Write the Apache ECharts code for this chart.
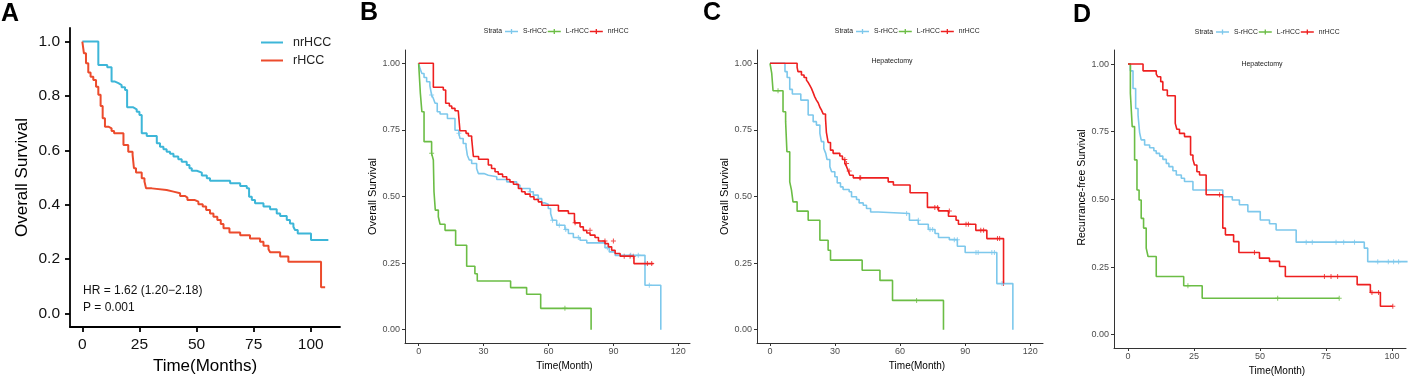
<!DOCTYPE html>
<html>
<head>
<meta charset="utf-8">
<script src="https://cdn.jsdelivr.net/npm/echarts@6/dist/echarts.min.js"></script>
<style>
html, body { margin: 0; padding: 0; background: #fff; }
#main { width: 1410px; height: 377px; }
</style>
</head>
<body>
<div id="main"></div>
<script>
// ---- data: [time in months, survival probability] ----

// A - overall survival, nrHCC vs rHCC
var A_nrHCC = [[0,1],[7.0,0.914],[10.9,0.906],[12.8,0.853],[14.3,0.847],[15.8,0.84],[17.2,0.832],[18.7,0.822],
  [19.6,0.758],[22.3,0.751],[23.8,0.742],[25.0,0.73],[26.0,0.663],[28.2,0.653],[32.6,0.626],[34.0,0.613],
  [35.5,0.604],[36.9,0.595],[38.4,0.587],[39.9,0.577],[42.0,0.567],[43.5,0.558],[45.7,0.546],[46.9,0.534],
  [47.9,0.525],[50.1,0.518],[52.3,0.507],[54.5,0.497],[55.9,0.488],[64.7,0.479],[69.1,0.469],[72.0,0.46],
  [73.0,0.429],[74.2,0.417],[75.6,0.405],[79.3,0.393],[82.2,0.383],[85.1,0.368],[86.6,0.358],[89.5,0.344],
  [90.9,0.331],[92.4,0.319],[93.1,0.307],[94.3,0.294],[100.1,0.27],[107.7,0.27]];
var A_rHCC = [[0,1],[0.7,0.957],[1.6,0.92],[2.6,0.886],[3.6,0.871],[4.8,0.859],[6.0,0.834],[7.0,0.804],
  [8.0,0.763],[8.9,0.718],[9.9,0.687],[11.4,0.681],[12.8,0.671],[13.9,0.663],[18.0,0.62],[20.1,0.595],
  [22.0,0.583],[22.6,0.534],[23.5,0.518],[26.0,0.497],[27.2,0.485],[27.9,0.46],[30.4,0.454],[36.9,0.448],
  [39.9,0.442],[42.8,0.432],[45.0,0.426],[46.0,0.417],[49.3,0.411],[50.8,0.402],[52.7,0.393],[54.2,0.38],
  [55.9,0.368],[57.4,0.356],[59.1,0.344],[60.6,0.329],[61.8,0.313],[64.4,0.298],[69.1,0.288],[73.4,0.276],
  [77.8,0.264],[79.3,0.249],[81.5,0.236],[82.2,0.225],[86.6,0.209],[90.2,0.19],[104.5,0.096],[106.3,0.096]];

// B - overall survival, three groups
var B_S = [[0,1],[0.6,0.981],[1.5,0.962],[2.5,0.947],[3.7,0.931],[5.2,0.915],[6.0,0.881],[6.8,0.868],
  [7.6,0.85],[8.6,0.818],[9.9,0.81],[13.3,0.793],[16.8,0.749],[18.6,0.737],[19.1,0.718],[20.6,0.699],
  [21.9,0.687],[22.5,0.655],[23.4,0.637],[24.5,0.624],[26.8,0.605],[27.6,0.586],[30.2,0.58],[32.2,0.574],
  [36.1,0.564],[40.7,0.555],[45.3,0.543],[46.8,0.53],[51.5,0.518],[53.0,0.505],[55.3,0.492],[56.9,0.476],
  [58.4,0.471],[59.9,0.455],[61.0,0.436],[61.9,0.411],[63.8,0.392],[67.6,0.376],[69.2,0.361],[71.5,0.346],
  [74.6,0.336],[77.7,0.326],[86.1,0.308],[88.1,0.292],[90.8,0.279],[104.6,0.167],[111.9,0]];
var B_L = [[0,1],[0.8,0.887],[1.5,0.818],[2.5,0.706],[6.0,0.662],[6.8,0.637],[7.1,0.518],[7.7,0.449],
  [9.1,0.424],[9.9,0.396],[12.2,0.373],[17.1,0.317],[22.2,0.238],[26.0,0.21],[27.1,0.183],[42.5,0.158],
  [49.9,0.133],[56.4,0.08],[79.7,0]];
var B_nr = [[0,1],[6.8,0.91],[11.4,0.9],[12.5,0.85],[14.2,0.84],[15.3,0.831],[16.8,0.822],[18.3,0.815],
  [19.1,0.747],[21.9,0.737],[23.0,0.727],[24.5,0.718],[25.3,0.65],[27.7,0.64],[32.2,0.618],[33.7,0.605],
  [35.3,0.593],[36.8,0.584],[38.8,0.574],[40.7,0.564],[42.2,0.555],[43.8,0.546],[46.1,0.53],[47.6,0.518],
  [49.2,0.509],[51.5,0.499],[53.3,0.489],[55.3,0.48],[56.9,0.467],[64.6,0.446],[69.2,0.436],[72.0,0.401],
  [74.6,0.386],[76.1,0.373],[77.7,0.363],[79.2,0.355],[81.5,0.346],[83.1,0.333],[86.1,0.323],[87.7,0.311],
  [89.2,0.298],[90.8,0.286],[93.1,0.276],[99.5,0.248],[108.5,0.248]];
var B_S_cens = [[6.0,0.881],[18.6,0.737],[51.5,0.518],[55.3,0.492],[61.9,0.411],[65.0,0.392],[68.0,0.376],
  [73.8,0.346],[87.2,0.308],[98.0,0.279],[101.5,0.279],[106.6,0.167]];
var B_L_cens = [[6.0,0.662],[67.6,0.08]];
var B_nr_cens = [[72.3,0.401],[79.2,0.373],[86.1,0.333],[90.0,0.333],[95.0,0.276],[97.7,0.276],[99.2,0.276],
  [104.6,0.248],[105.7,0.248],[107.7,0.248]];

// C - overall survival, hepatectomy
var C_S = [[0,1],[6.9,0.969],[7.9,0.947],[9.1,0.902],[10.3,0.885],[14.2,0.862],[17.6,0.806],[19.9,0.781],
  [21.4,0.768],[23.0,0.737],[23.7,0.706],[24.8,0.68],[25.7,0.662],[26.3,0.639],[27.6,0.612],[28.4,0.593],
  [29.9,0.574],[31.0,0.551],[32.5,0.536],[33.7,0.526],[36.5,0.518],[37.6,0.499],[39.9,0.489],[41.1,0.476],
  [43.0,0.467],[44.5,0.455],[46.4,0.442],[49.9,0.436],[64.3,0.411],[68.4,0.396],[73.0,0.376],[76.1,0.361],
  [77.7,0.346],[82.7,0.338],[86.4,0.313],[90.0,0.29],[104.6,0.173],[112.0,0]];
var C_L = [[0,1],[0.8,0.962],[1.4,0.897],[6.0,0.818],[7.2,0.781],[7.8,0.668],[9.1,0.555],[9.9,0.524],
  [10.6,0.48],[12.5,0.445],[17.6,0.411],[23.0,0.336],[26.8,0.298],[27.9,0.261],[42.5,0.223],[50.7,0.185],
  [56.5,0.11],[80.0,0]];
var C_nr = [[0,1],[12.5,0.985],[12.9,0.969],[14.5,0.956],[15.7,0.947],[16.8,0.937],[17.7,0.927],[18.3,0.918],
  [19.1,0.906],[19.9,0.89],[20.6,0.875],[21.4,0.862],[22.2,0.852],[23.0,0.835],[23.7,0.825],[24.5,0.81],
  [25.6,0.793],[26.0,0.741],[26.8,0.703],[27.9,0.674],[29.1,0.662],[32.2,0.652],[33.4,0.639],[34.5,0.624],
  [35.3,0.612],[36.1,0.596],[36.8,0.58],[38.4,0.57],[54.5,0.555],[56.9,0.543],[64.6,0.514],[72.6,0.459],
  [77.7,0.446],[82.3,0.426],[85.8,0.411],[86.9,0.396],[94.9,0.373],[100.0,0.342],[107.7,0.173]];
var C_S_cens = [[63.0,0.436],[68.4,0.411],[73.8,0.376],[75.0,0.376],[85.0,0.338],[86.4,0.338],[95.0,0.29],
  [96.0,0.29],[102.3,0.29],[103.5,0.29],[107.0,0.173]];
var C_L_cens = [[3.7,0.897],[67.6,0.11]];
var C_nr_cens = [[34.5,0.639],[35.3,0.624],[36.5,0.596],[41.4,0.57],[41.8,0.57],[76.0,0.459],[77.3,0.459],
  [82.7,0.446],[90.4,0.396],[91.5,0.396],[97.2,0.373],[98.5,0.373],[104.9,0.342],[105.9,0.342],[107.7,0.173]];

// D - recurrence-free survival, hepatectomy
var D_S = [[0,1],[0.9,0.975],[1.9,0.91],[2.9,0.836],[3.8,0.812],[4.4,0.747],[5.0,0.72],[6.3,0.701],
  [8.2,0.691],[9.8,0.68],[10.7,0.67],[12.0,0.66],[13.2,0.648],[14.5,0.633],[15.5,0.621],[17.0,0.606],
  [18.3,0.59],[20.2,0.578],[21.4,0.566],[24.6,0.535],[35.9,0.51],[39.5,0.498],[42.2,0.48],[45.4,0.455],
  [50.1,0.424],[53.6,0.41],[56.1,0.387],[63.7,0.342],[89.5,0.32],[90.8,0.27],[105.9,0.27]];
var D_L = [[0,1],[0.9,0.892],[1.6,0.769],[2.5,0.646],[3.4,0.535],[4.2,0.498],[5.0,0.43],[5.9,0.394],
  [6.9,0.32],[7.6,0.289],[10.7,0.215],[21.1,0.181],[28.1,0.135],[80.0,0.135]];
var D_nr = [[0,1],[5.7,0.975],[10.7,0.963],[11.3,0.953],[12.4,0.935],[13.2,0.904],[14.9,0.883],[17.9,0.781],
  [18.5,0.759],[19.5,0.744],[21.4,0.732],[23.7,0.664],[24.6,0.648],[25.2,0.627],[26.1,0.602],[27.1,0.59],
  [29.6,0.517],[35.9,0.394],[36.9,0.369],[40.0,0.344],[42.0,0.304],[49.8,0.283],[53.6,0.271],[57.4,0.252],
  [59.6,0.215],[86.8,0.185],[91.8,0.156],[95.6,0.105],[100.3,0.105]];
var D_S_cens = [[67.5,0.342],[69.8,0.342],[78.8,0.342],[81.7,0.342],[85.8,0.342],[94.6,0.27],[98.6,0.27],
  [100.6,0.27],[102.5,0.27],[105.9,0.27]];
var D_L_cens = [[22.7,0.181],[56.7,0.135],[80.0,0.135]];
var D_nr_cens = [[34.7,0.517],[47.9,0.304],[74.4,0.215],[76.9,0.215],[79.4,0.215],[92.4,0.156],[94.9,0.156],[100.3,0.105]];

// ticks
var A_xTicks = [0, 25, 50, 75, 100];
var A_yTicks = [0, 0.2, 0.4, 0.6, 0.8, 1.0];
var BC_xTicks = [0, 30, 60, 90, 120];
var D_xTicks = [0, 25, 50, 75, 100];
var S_yTicks = [0, 0.25, 0.5, 0.75, 1.0];

var FONT = '"Liberation Sans", Arial, sans-serif';
var blueA = '#3DB6D8', redA = '#EC4B2C';
var sBlue = '#7DC8EC', lGreen = '#6BBD45', nRed = '#EE1F1F';
var plusSym = 'path://M0,4H10V6H0Z M4,0H6V10H4Z';
var keyIcon = 'path://M0,2.2H14V3.8H0Z M6.3,0.3H7.7V5.7H6.3Z';

var chart = echarts.init(document.getElementById('main'));

function xAxisOf(gi, min, max, ticks, name, big) {
  return {
    type: 'value', gridIndex: gi, min: min, max: max,
    name: name, nameLocation: 'middle', nameGap: big ? 30 : 13,
    nameTextStyle: big ? {fontSize: 17, color: '#000', fontFamily: FONT}
                       : {fontSize: 10, color: '#000', fontFamily: FONT, padding: [0, 0, 0, 34]},
    axisLine: {onZero: false, lineStyle: {color: big ? '#000' : '#333', width: big ? 1.8 : 1}},
    axisTick: {customValues: ticks, length: big ? 5 : 3, lineStyle: {color: big ? '#000' : '#333', width: big ? 1.8 : 1}},
    axisLabel: {customValues: ticks, margin: big ? 10 : 4, fontSize: big ? 15.5 : 9,
      color: big ? '#111' : '#4D4D4D', fontFamily: FONT},
    splitLine: {show: false}
  };
}
function yAxisOf(gi, min, max, ticks, name, big, digits, shift) {
  return {
    type: 'value', gridIndex: gi, min: min, max: max,
    name: name, nameLocation: 'middle', nameGap: big ? 39 : 22,
    nameTextStyle: {fontSize: big ? 17 : (shift ? 10.5 : 11), color: '#000', fontFamily: FONT,
      padding: shift ? [0, 0, 0, shift] : 0},
    axisLine: {onZero: false, lineStyle: {color: big ? '#000' : '#333', width: big ? 1.8 : 1}},
    axisTick: {customValues: ticks, length: big ? 5 : 3, lineStyle: {color: big ? '#000' : '#333', width: big ? 1.8 : 1}},
    axisLabel: {customValues: ticks, margin: big ? 10 : 5, fontSize: big ? 15.5 : 9,
      color: big ? '#111' : '#4D4D4D', fontFamily: FONT,
      formatter: function (v) { return v.toFixed(digits); }},
    splitLine: {show: false}
  };
}
function stepLine(name, gi, data, color, width) {
  return {
    type: 'line', name: name, xAxisIndex: gi, yAxisIndex: gi, data: data, step: 'end',
    showSymbol: false, lineStyle: {color: color, width: width}, itemStyle: {color: color}, silent: true
  };
}
function censors(name, gi, data, color) {
  return {
    type: 'scatter', name: name, xAxisIndex: gi, yAxisIndex: gi, data: data,
    symbol: plusSym, symbolSize: 5, itemStyle: {color: color}, silent: true
  };
}
function strataLegend(left, top) {
  return {
    left: left, top: top, padding: 0, itemGap: 1, itemWidth: 13, itemHeight: 6,
    icon: keyIcon, selectedMode: false,
    data: [
      {name: 'S-rHCC', itemStyle: {color: sBlue}},
      {name: 'L-rHCC', itemStyle: {color: lGreen}},
      {name: 'nrHCC|3', itemStyle: {color: nRed}}
    ],
    formatter: function (n) { return n.split('|')[0]; },
    textStyle: {fontSize: 6.8, color: '#222', fontFamily: FONT}
  };
}
function txt(x, y, text, font, align, color) {
  return {type: 'text', x: x, y: y, silent: true,
    style: {text: text, font: font, fill: color || '#000', textAlign: align || 'left', textVerticalAlign: 'middle'}};
}

var option = {
  animation: false,
  backgroundColor: '#fff',
  grid: [
    {left: 70, top: 28, width: 270, height: 299, outerBoundsMode: 'none'},
    {left: 405, top: 50, width: 285, height: 293, outerBoundsMode: 'none'},
    {left: 757, top: 50, width: 286, height: 293, outerBoundsMode: 'none'},
    {left: 1114, top: 50, width: 292, height: 298, outerBoundsMode: 'none'}
  ],
  xAxis: [
    xAxisOf(0, -5.4, 112.8, A_xTicks, 'Time(Months)', true),
    xAxisOf(1, -6.3, 125.4, BC_xTicks, 'Time(Month)', false),
    xAxisOf(2, -6.0, 125.9, BC_xTicks, 'Time(Month)', false),
    xAxisOf(3, -5.3, 105.3, D_xTicks, 'Time(Month)', false)
  ],
  yAxis: [
    yAxisOf(0, -0.05, 1.05, A_yTicks, 'Overall Survival', true, 1),
    yAxisOf(1, -0.05, 1.05, S_yTicks, 'Overall Survival', false, 2),
    yAxisOf(2, -0.05, 1.05, S_yTicks, 'Overall Survival', false, 2),
    yAxisOf(3, -0.049, 1.052, S_yTicks, 'Recurrance-free Survival', false, 2, 23)
  ],
  legend: [
    {left: 261, top: 36, orient: 'vertical', padding: 0, itemGap: 5, itemWidth: 22, itemHeight: 2,
      icon: 'path://M0,0H22V2H0Z', selectedMode: false,
      data: [{name: 'nrHCC', itemStyle: {color: blueA}}, {name: 'rHCC', itemStyle: {color: redA}}],
      textStyle: {fontSize: 12.5, color: '#222', fontFamily: FONT, padding: [0, 0, 0, 5]}},
    strataLegend(505, 28),
    strataLegend(856, 28),
    strataLegend(1216, 28.5)
  ],
  graphic: [
    txt(1, 14, 'A', 'bold 25px ' + FONT),
    txt(360, 13, 'B', 'bold 25px ' + FONT),
    txt(703, 13.5, 'C', 'bold 25px ' + FONT),
    txt(1073, 15, 'D', 'bold 25px ' + FONT),
    txt(83, 291, 'HR = 1.62 (1.20\u22122.18)', '12px ' + FONT, 'left', '#111'),
    txt(83, 308, 'P = 0.001', '12px ' + FONT, 'left', '#111'),
    txt(502, 31.5, 'Strata', '6.8px ' + FONT, 'right', '#222'),
    txt(853, 31.5, 'Strata', '6.8px ' + FONT, 'right', '#222'),
    txt(1213, 32, 'Strata', '6.8px ' + FONT, 'right', '#222'),
    txt(892, 61, 'Hepatectomy', '7px ' + FONT, 'center', '#222'),
    txt(1262, 64, 'Hepatectomy', '7px ' + FONT, 'center', '#222')
  ],
  series: [
    stepLine('nrHCC', 0, A_nrHCC, blueA, 2),
    stepLine('rHCC', 0, A_rHCC, redA, 2),

    stepLine('S-rHCC', 1, B_S, sBlue, 1.6),
    stepLine('L-rHCC', 1, B_L, lGreen, 1.6),
    stepLine('nrHCC|3', 1, B_nr, nRed, 1.6),
    censors('S-rHCC', 1, B_S_cens, sBlue),
    censors('L-rHCC', 1, B_L_cens, lGreen),
    censors('nrHCC|3', 1, B_nr_cens, nRed),

    stepLine('S-rHCC', 2, C_S, sBlue, 1.6),
    stepLine('L-rHCC', 2, C_L, lGreen, 1.6),
    stepLine('nrHCC|3', 2, C_nr, nRed, 1.6),
    censors('S-rHCC', 2, C_S_cens, sBlue),
    censors('L-rHCC', 2, C_L_cens, lGreen),
    censors('nrHCC|3', 2, C_nr_cens, nRed),

    stepLine('S-rHCC', 3, D_S, sBlue, 1.6),
    stepLine('L-rHCC', 3, D_L, lGreen, 1.6),
    stepLine('nrHCC|3', 3, D_nr, nRed, 1.6),
    censors('S-rHCC', 3, D_S_cens, sBlue),
    censors('L-rHCC', 3, D_L_cens, lGreen),
    censors('nrHCC|3', 3, D_nr_cens, nRed)
  ]
};
chart.setOption(option);
</script>
</body>
</html>
